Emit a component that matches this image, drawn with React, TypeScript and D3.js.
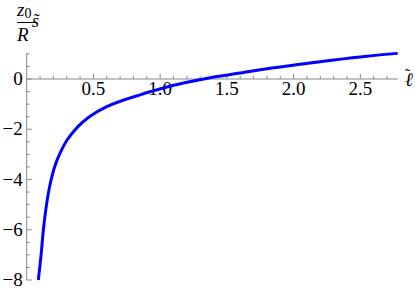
import { useEffect, useRef } from 'react'
import * as d3 from 'd3'

// curve values (l~, z0/R s~)
const ellValues = [0.087, 0.107, 0.125, 0.15, 0.175, 0.212, 0.25, 0.3, 0.35, 0.413, 0.475, 0.6, 0.725, 0.85, 0.925, 1.1, 1.275, 1.425, 1.6, 1.8, 2.05, 2.3, 2.55, 2.78]
const sValues = [-8.0, -7.05, -6.0, -4.95, -4.2, -3.45, -2.95, -2.45, -2.1, -1.75, -1.48, -1.1, -0.84, -0.63, -0.51, -0.25, -0.05, 0.1, 0.24, 0.41, 0.59, 0.76, 0.91, 1.02]

const xMajorTicks = [0.5, 1.0, 1.5, 2.0, 2.5]
const yMajorTicks = [0, -2, -4, -6, -8]

export default function App() {
  const svgRef = useRef<SVGSVGElement>(null)

  useEffect(() => {
    if (!svgRef.current) return
    const svg = d3.select(svgRef.current)
    svg.selectAll('*').remove()

    const x = d3.scaleLinear().domain([0, 2.78]).range([26.7, 397.7])
    const y = d3.scaleLinear().domain([-8, 0]).range([280, 79])

    const axisColor = '#888'
    const font = 'Liberation Serif, DejaVu Serif, Times New Roman, Times, serif'

    // x axis line at y = 0
    svg.append('line')
      .attr('x1', x(0)).attr('x2', x(2.78))
      .attr('y1', y(0)).attr('y2', y(0))
      .attr('stroke', axisColor).attr('stroke-width', 1)

    // y axis line at x = 0
    svg.append('line')
      .attr('x1', x(0)).attr('x2', x(0))
      .attr('y1', y(-8)).attr('y2', y(1.03))
      .attr('stroke', axisColor).attr('stroke-width', 1)

    // x ticks (pointing up)
    const xMinor = d3.range(1, 28).map(i => i / 10)
    svg.append('g').selectAll('line')
      .data(xMinor)
      .join('line')
      .attr('x1', d => x(d)).attr('x2', d => x(d))
      .attr('y1', y(0))
      .attr('y2', d => y(0) - (xMajorTicks.some(t => Math.abs(t - d) < 1e-6) ? 5 : 3))
      .attr('stroke', axisColor).attr('stroke-width', 1)

    svg.append('g').selectAll('text')
      .data(xMajorTicks)
      .join('text')
      .attr('x', d => x(d)).attr('y', y(0) + 16)
      .attr('text-anchor', 'middle')
      .attr('font-family', font).attr('font-size', 19)
      .text(d => d.toFixed(1))

    // y ticks (pointing right)
    const yMinor = d3.range(-16, 3).map(i => i / 2)
    svg.append('g').selectAll('line')
      .data(yMinor)
      .join('line')
      .attr('x1', x(0))
      .attr('x2', d => x(0) + (yMajorTicks.includes(d) ? 5 : 3))
      .attr('y1', d => y(d)).attr('y2', d => y(d))
      .attr('stroke', axisColor).attr('stroke-width', 1)

    svg.append('g').selectAll('text')
      .data(yMajorTicks)
      .join('text')
      .attr('x', x(0) - 4).attr('y', d => y(d) + 6)
      .attr('text-anchor', 'end')
      .attr('font-family', font).attr('font-size', 19)
      .text(d => (d < 0 ? '\u2212' + Math.abs(d) : `${d}`))

    // curve
    const pts = ellValues.map((l, i) => [l, sValues[i]] as [number, number])
    const line = d3.line<[number, number]>()
      .x(d => x(d[0]))
      .y(d => y(d[1]))
      .curve(d3.curveCatmullRom.alpha(0.5))
    svg.append('path')
      .attr('d', line(pts))
      .attr('fill', 'none')
      .attr('stroke', '#0000ff')
      .attr('stroke-width', 3)

    // y axis label: z0/R s~
    const lab = svg.append('g').attr('font-family', font)
    const zt = lab.append('text').attr('x', 17).attr('y', 16).attr('font-size', 19)
    zt.append('tspan').attr('font-style', 'italic').text('z')
    zt.append('tspan').attr('font-size', 14).attr('dy', 2).text('0')
    lab.append('line')
      .attr('x1', 17).attr('x2', 37).attr('y1', 22.5).attr('y2', 22.5)
      .attr('stroke', '#000').attr('stroke-width', 1)
    lab.append('text').attr('x', 17).attr('y', 41)
      .attr('font-size', 19).attr('font-style', 'italic').text('R')
    lab.append('text').attr('x', 32).attr('y', 27)
      .attr('font-size', 18).attr('font-style', 'italic').text('s\u0303')

    // x axis label: l~ (one text, tilde as a tspan placed above the l)
    const lt = svg.append('text')
      .attr('font-family', font).attr('font-size', 19)
    lt.append('tspan').attr('x', 405).attr('y', 86).attr('font-style', 'italic').text('\u2113')
    lt.append('tspan').attr('x', 405).attr('y', 80).attr('font-size', 16).text('\u02DC')
  }, [])

  return (
    <svg
      ref={svgRef}
      width={415}
      height={290}
      style={{ position: 'absolute', left: 0, top: 0, background: '#fff' }}
    />
  )
}
